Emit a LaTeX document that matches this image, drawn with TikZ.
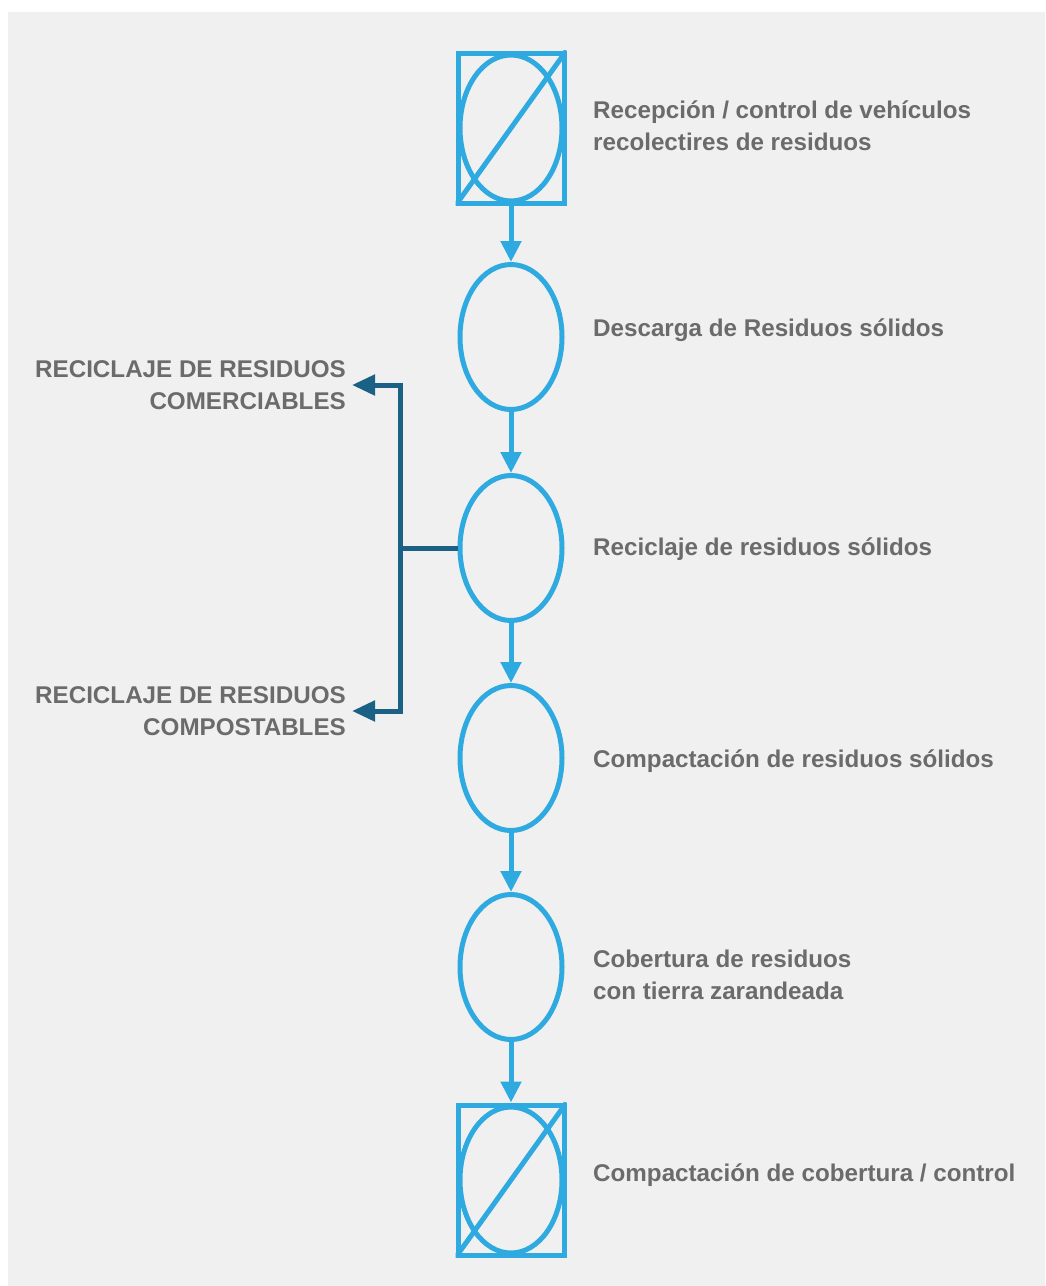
\documentclass[tikz,border=0pt]{standalone}
\usepackage{fontspec}
\setmainfont{Liberation Sans}
\usetikzlibrary{arrows.meta,shapes.geometric}
\definecolor{lb}{HTML}{2EAAE1}
\definecolor{db}{HTML}{1B6185}
\definecolor{tx}{HTML}{6B6B6B}
\definecolor{bgc}{HTML}{F0F0F0}
\begin{document}
\begin{tikzpicture}[x=1pt,y=-1pt,
  stage/.style={ellipse,draw=lb,line width=5pt,minimum width=102pt,minimum height=145pt,inner sep=0pt},
  term/.style={rectangle,draw=lb,line width=5pt,minimum width=106pt,minimum height=150pt,inner sep=0pt},
  flow/.style={draw=lb,line width=5pt,-{Triangle[length=21pt,width=20pt]}},
  branch/.style={draw=db,line width=5pt},
  branchar/.style={branch,-{Triangle[length=23pt,width=20pt]},shorten >=6pt},
  lbl/.style={font=\fontsize{24.2}{32}\selectfont\bfseries,text=tx,align=left,anchor=west,inner sep=0pt},
  side/.style={font=\fontsize{24.2}{32}\selectfont\bfseries,text=tx,align=right,anchor=east,inner sep=0pt}]
\useasboundingbox (0,0) rectangle (1045,1286);
\fill[bgc] (8,12) rectangle (1045,1286);

% terminal symbols
\node[term] (t1) at (511,128) {};
\draw[lb,line width=5pt] (t1.center) ellipse [x radius=51, y radius=73];
\begin{scope}
\clip (t1.south west) rectangle (t1.north east);
\draw[lb,line width=5pt] (t1.south west) -- (t1.north east);
\end{scope}

\node[stage] (e1) at (511,337) {};
\node[stage] (e2) at (511,548) {};
\node[stage] (e3) at (511,758) {};
\node[stage] (e4) at (511,967) {};

\node[term] (t2) at (511,1180) {};
\draw[lb,line width=5pt] (t2.center) ellipse [x radius=51, y radius=73];
\begin{scope}
\clip (t2.south west) rectangle (t2.north east);
\draw[lb,line width=5pt] (t2.south west) -- (t2.north east);
\end{scope}

% flow arrows
\draw[flow] (t1.south) -- (e1.north);
\draw[flow] (e1.south) -- (e2.north);
\draw[flow] (e2.south) -- (e3.north);
\draw[flow] (e3.south) -- (e4.north);
\draw[flow] (e4.south) -- (t2.north);

% right labels
\node[lbl] (l1) at (593,126) {Recepción / control de vehículos\\recolectires de residuos};
\node[lbl] (l2) at (593,330) {Descarga de Residuos sólidos};
\node[lbl] (l3) at (593,549) {Reciclaje de residuos sólidos};
\node[lbl] (l4) at (593,761) {Compactación de residuos sólidos};
\node[lbl] (l5) at (593,975) {Cobertura de residuos\\con tierra zarandeada};
\node[lbl] (l6) at (593,1175) {Compactación de cobertura / control};

% left labels
\node[side] (c1) at (346,385) {RECICLAJE DE RESIDUOS\\COMERCIABLES};
\node[side] (c2) at (346,711) {RECICLAJE DE RESIDUOS\\COMPOSTABLES};

% branch
\coordinate (j) at (400,548);
\draw[branch] (e2.west) -- (j);
\draw[branchar] (j) |- (c1.east);
\draw[branchar] (j) |- (c2.east);
\end{tikzpicture}
\end{document}
